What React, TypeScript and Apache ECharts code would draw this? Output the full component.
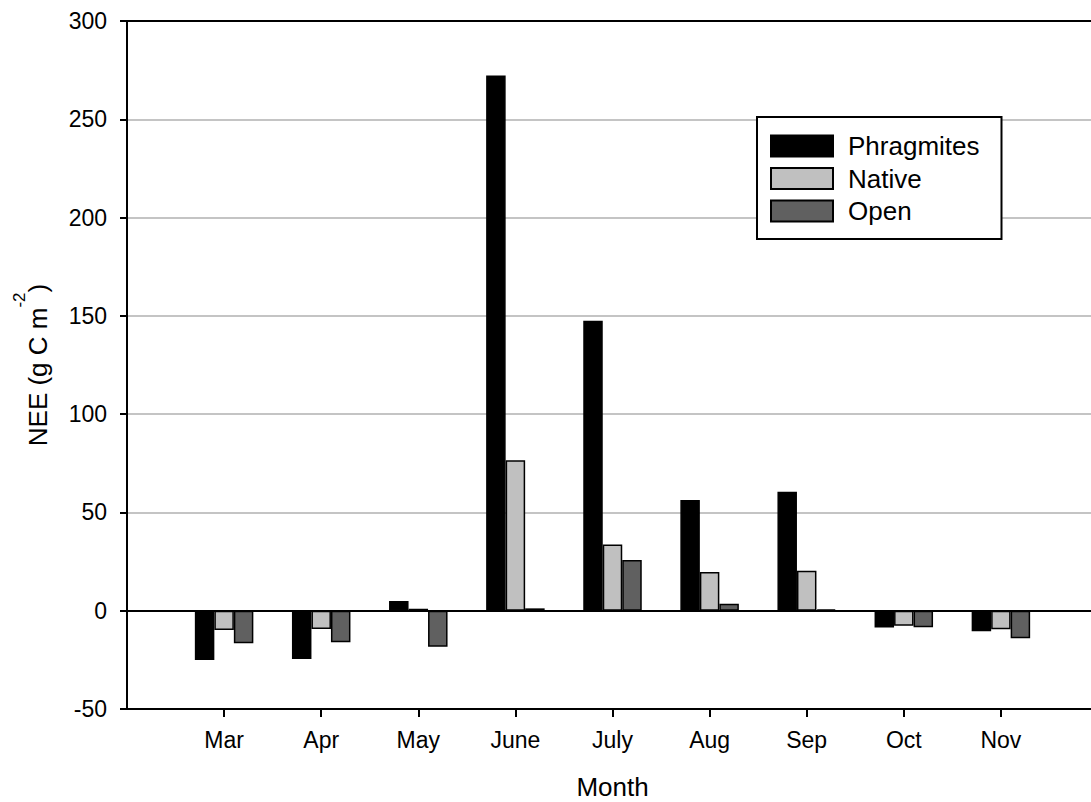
import React, { useEffect, useRef } from "react";
import * as echarts from "echarts";

const months = ["Mar", "Apr", "May", "June", "July", "Aug", "Sep", "Oct", "Nov"];
const phragmites = [-25.1, -24.6, 4.9, 272.3, 147.5, 56.3, 60.5, -8.5, -10.4];
const native = [-9.8, -9.3, 1.0, 76.6, 33.7, 19.7, 20.3, -7.7, -9.4];
const openSite = [-16.6, -16.1, -18.3, 1.2, 25.8, 3.5, 0.7, -8.4, -14.0];
const monthPositions = [1, 2, 3, 4, 5, 6, 7, 8, 9];
const referenceLines = [0, 300];

const FONT = "'Liberation Sans', Arial, Helvetica, sans-serif";

export default function App() {
  const ref = useRef<HTMLDivElement>(null);
  useEffect(() => {
    document.body.style.margin = "0";
    const chart = echarts.init(ref.current!, null, { renderer: "svg" });
    const mk = (name: string, values: number[], color: string, withMark = false) => ({
      name,
      type: "bar",
      data: values.map((v, i) => [monthPositions[i], v]),
      barWidth: 19.5,
      barGap: "0%",
      itemStyle: { color, borderColor: "#000", borderWidth: 1.5 },
      markLine: withMark
        ? {
            silent: true,
            symbol: "none",
            label: { show: false },
            lineStyle: { color: "#000", width: 2, type: "solid" },
            data: referenceLines.map((y) => ({ yAxis: y })),
          }
        : undefined,
    });
    chart.setOption({
      animation: false,
      backgroundColor: "#fff",
      textStyle: { fontFamily: FONT },
      grid: {
        left: 127,
        top: 21,
        width: 971,
        height: 688,
        containLabel: false,
        outerBoundsMode: "none",
      },
      legend: {
        orient: "vertical",
        left: 757,
        top: 117,
        padding: [16, 22, 15, 13],
        borderColor: "#000",
        borderWidth: 2,
        backgroundColor: "#fff",
        itemWidth: 62,
        itemHeight: 21,
        itemGap: 6.5,
        icon: "rect",
        itemStyle: { borderColor: "#000", borderWidth: 2 },
        textStyle: { fontSize: 26, lineHeight: 26, color: "#000", fontFamily: FONT, padding: [0, 0, 0, 10] },
        data: ["Phragmites", "Native", "Open"],
      },
      xAxis: {
        type: "value",
        min: 0,
        max: 10,
        interval: 1,
        name: "Month",
        nameLocation: "middle",
        nameGap: 65,
        nameTextStyle: { fontSize: 26, color: "#000", fontFamily: FONT },
        axisLine: { show: true, onZero: false, lineStyle: { color: "#000", width: 2 } },
        axisTick: {
          show: true,
          length: 8,
          customValues: monthPositions,
          lineStyle: { color: "#000", width: 2 },
        },
        axisLabel: {
          customValues: monthPositions,
          margin: 19,
          fontSize: 23,
          color: "#000",
          fontFamily: FONT,
          formatter: (v: number) => months[v - 1] ?? "",
        },
        splitLine: { show: false },
      },
      yAxis: {
        type: "value",
        min: -50,
        max: 300,
        interval: 50,
        name: "{a|NEE (g C m}{s|-2}{a|)}",
        nameLocation: "middle",
        nameRotate: 90,
        nameGap: 76,
        nameTextStyle: {
          rich: {
            a: { fontSize: 26, color: "#000", fontFamily: FONT, lineHeight: 40, verticalAlign: "bottom" },
            s: { fontSize: 17, color: "#000", fontFamily: FONT, lineHeight: 40, verticalAlign: "top" },
          },
        },
        axisLine: { show: true, onZero: false, lineStyle: { color: "#000", width: 2 } },
        axisTick: { show: true, length: 7, inside: false, lineStyle: { color: "#000", width: 2 } },
        axisLabel: { margin: 20, fontSize: 23, color: "#000", fontFamily: FONT },
        splitLine: { show: true, lineStyle: { color: "#c4c4c4", width: 2 } },
      },
      series: [
        mk("Phragmites", phragmites, "#000000", true),
        mk("Native", native, "#c0c0c0"),
        mk("Open", openSite, "#606060"),
      ],
    });
    return () => chart.dispose();
  }, []);
  return <div ref={ref} style={{ width: 1091, height: 802, overflow: "hidden" }} />;
}
